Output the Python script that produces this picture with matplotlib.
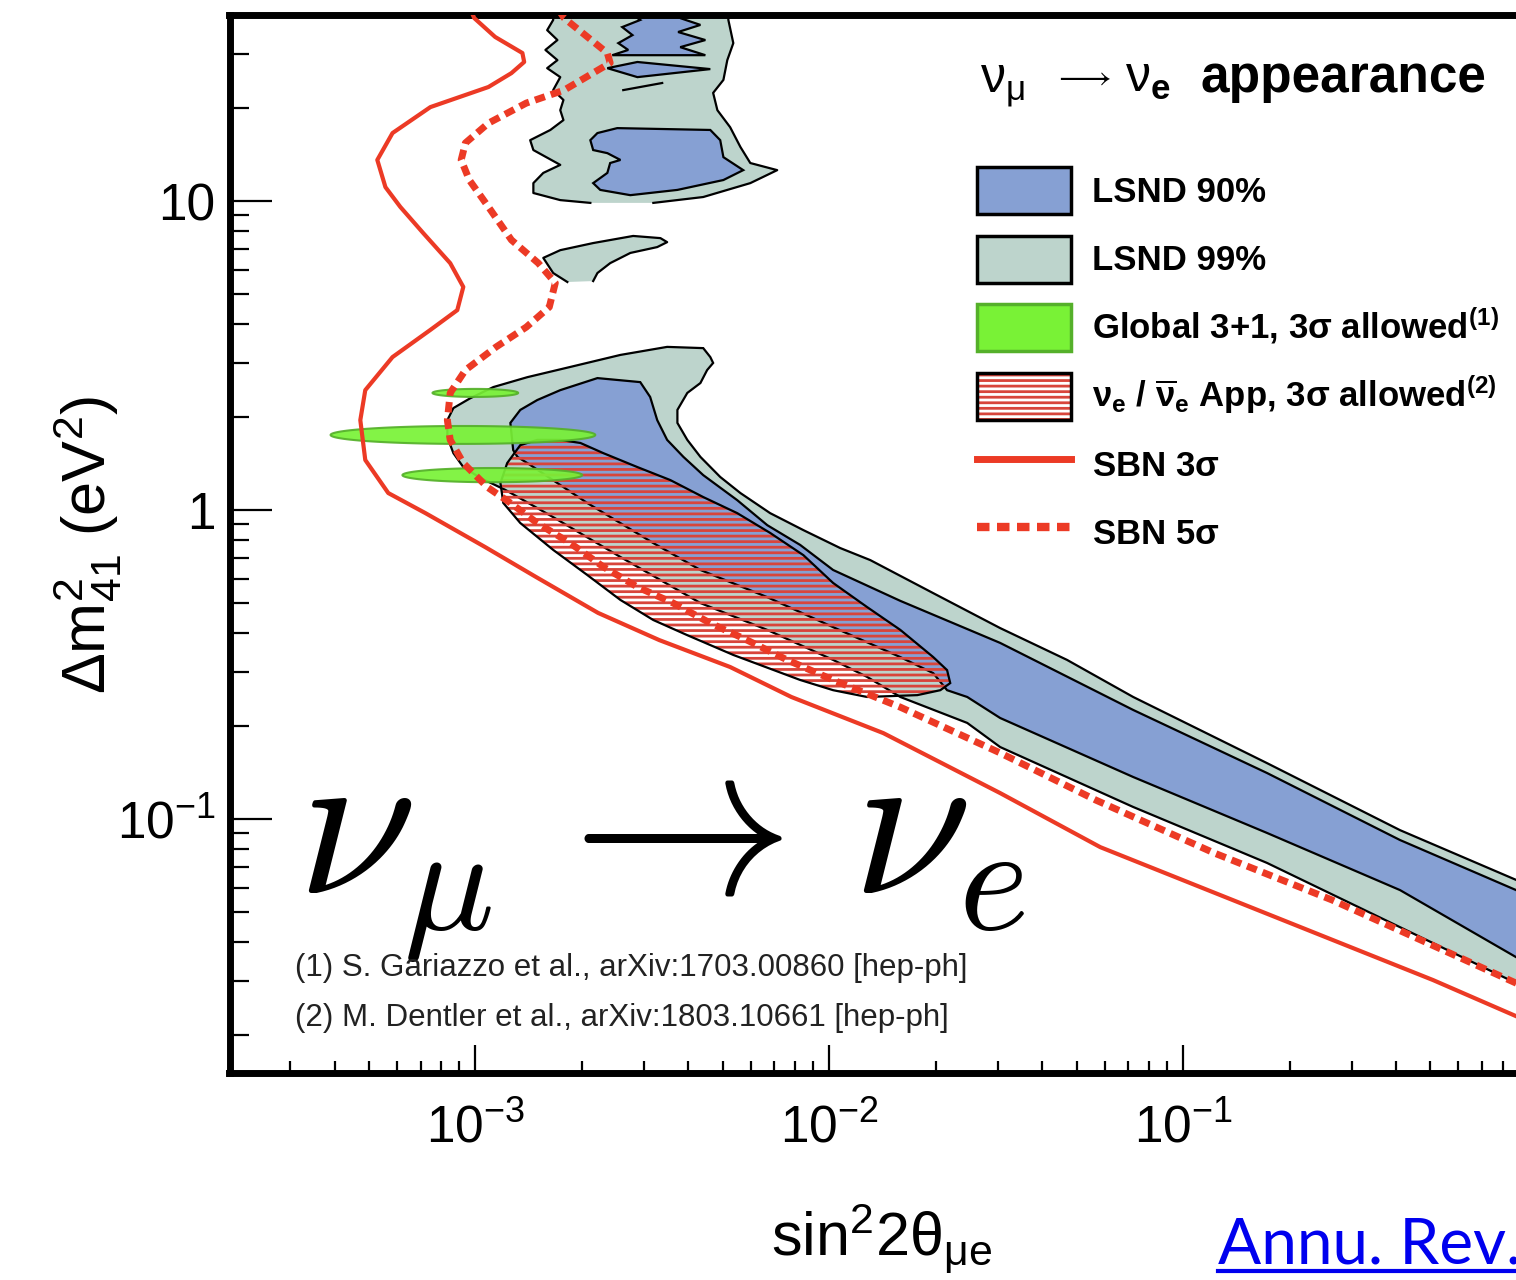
import numpy as np
import matplotlib
matplotlib.use("Agg")
import matplotlib.pyplot as plt
from matplotlib.patches import Patch
from matplotlib.lines import Line2D
from matplotlib.ticker import LogLocator, FuncFormatter, NullFormatter

plt.rcParams['font.family'] = ['Liberation Sans', 'DejaVu Sans']
plt.rcParams['mathtext.fontset'] = 'custom'
plt.rcParams['mathtext.rm'] = 'Liberation Sans'
plt.rcParams['mathtext.it'] = 'Liberation Sans:italic'
plt.rcParams['mathtext.bf'] = 'Liberation Sans:bold'
plt.rcParams['hatch.linewidth'] = 2.0

# all values are log10(sin^2 2theta) and log10(dm^2 / eV^2)
# SBN sensitivity curves
sbn3_logs2 = [-3.014, -3.003, -2.944, -2.867, -2.862, -2.898, -2.963, -3.127, -3.234, -3.277,
              -3.254, -3.212, -3.147, -3.071, -3.034, -3.051, -3.127, -3.234, -3.311, -3.325,
              -3.311, -3.246, -3.141, -2.972, -2.828, -2.653, -2.480, -2.280, -2.107, -1.847,
              -1.517, -1.234, -0.952, -0.576, -0.294, -0.059, 0.065]
sbn3_logdm2 = [1.62, 1.592, 1.531, 1.479, 1.450, 1.414, 1.369, 1.304, 1.220, 1.133,
               1.045, 0.981, 0.896, 0.799, 0.722, 0.647, 0.583, 0.495, 0.388, 0.291,
               0.162, 0.055, -0.010, -0.120, -0.217, -0.333, -0.421, -0.508, -0.605, -0.722,
               -0.916, -1.091, -1.220, -1.392, -1.521, -1.638, -1.699]

sbn5_logs2 = [-2.765, -2.749, -2.627, -2.619, -2.749, -2.856, -2.963, -3.028, -3.040, -3.017,
              -2.963, -2.898, -2.822, -2.774, -2.791, -2.856, -2.941, -3.028, -3.071, -3.079,
              -3.071, -3.034, -2.966, -2.901, -2.825, -2.732, -2.638, -2.542, -2.441, -2.336,
              -2.232, -2.119, -1.989, -1.799, -1.517, -1.246, -0.912, -0.579, -0.246, -0.059, 0.065]
sbn5_logdm2 = [1.62, 1.592, 1.479, 1.447, 1.359, 1.317, 1.252, 1.188, 1.133, 1.068,
               0.981, 0.874, 0.799, 0.735, 0.657, 0.592, 0.528, 0.453, 0.379, 0.291,
               0.227, 0.152, 0.074, 0.023, -0.042, -0.107, -0.184, -0.249, -0.301, -0.366,
               -0.421, -0.485, -0.550, -0.638, -0.786, -0.939, -1.110, -1.262, -1.434, -1.531, -1.595]

# LSND 99% : hook + diagonal band
lsnd99_band_logs2 = [-3.034, -3.062, -3.079, -3.079, -3.062, -3.014, -2.949, -2.853, -2.732, -2.590,
                     -2.458, -2.356, -2.336, -2.328, -2.345, -2.364, -2.401, -2.429, -2.429, -2.401,
                     -2.364, -2.308, -2.251, -2.167, -2.073, -1.969, -1.884, -1.706, -1.517, -1.328,
                     -1.141, -0.763, -0.387, -0.059, 0.065,
                     0.065, -0.059, -0.387, -0.763, -1.141, -1.517, -1.610, -1.799, -1.893, -1.989,
                     -2.175, -2.364, -2.590, -2.780, -2.915, -2.986]
lsnd99_band_logdm2 = [0.139, 0.184, 0.236, 0.291, 0.330, 0.362, 0.398, 0.430, 0.463, 0.502,
                      0.528, 0.524, 0.495, 0.476, 0.453, 0.411, 0.379, 0.324, 0.282, 0.227,
                      0.172, 0.107, 0.055, -0.010, -0.065, -0.123, -0.162, -0.269, -0.382, -0.485,
                      -0.605, -0.819, -1.036, -1.197, -1.265,
                      -1.595, -1.531, -1.350, -1.142, -0.961, -0.767, -0.689, -0.605, -0.540, -0.485,
                      -0.388, -0.301, -0.152, -0.023, 0.065, 0.104]

# LSND 90% : hook + diagonal band
lsnd90_band_logs2 = [-2.893, -2.901, -2.873, -2.825, -2.760, -2.655, -2.534, -2.506, -2.486, -2.458,
                     -2.412, -2.356, -2.260, -2.175, -2.082, -1.989, -1.799, -1.517, -1.141, -0.763,
                     -0.387, -0.059, 0.065,
                     0.065, -0.059, -0.387, -0.763, -1.141, -1.517, -1.610, -1.667, -1.706, -1.799,
                     -1.989, -2.175, -2.364, -2.497, -2.684, -2.845, -2.881]
lsnd90_band_logdm2 = [0.194, 0.282, 0.324, 0.356, 0.388, 0.427, 0.414, 0.366, 0.291, 0.227,
                      0.172, 0.113, 0.032, -0.049, -0.113, -0.194, -0.294, -0.430, -0.647, -0.851,
                      -1.068, -1.230, -1.294,
                      -1.515, -1.447, -1.230, -1.045, -0.864, -0.673, -0.605, -0.583, -0.528, -0.476,
                      -0.379, -0.282, -0.194, -0.107, 0.023, 0.146, 0.172]

# LSND islands at large dm2
lsnd99_top_logs2 = [-2.780, -2.780, -2.797, -2.768, -2.802, -2.768, -2.797, -2.760, -2.780, -2.751,
                    -2.760, -2.751, -2.788, -2.845, -2.836, -2.760, -2.808, -2.836, -2.836, -2.760,
                    -2.675, -2.497, -2.356, -2.223, -2.147, -2.223, -2.251, -2.280, -2.316, -2.328,
                    -2.299, -2.288, -2.271, -2.285, -2.285]
lsnd99_top_logdm2 = [1.62, 1.586, 1.553, 1.521, 1.489, 1.456, 1.430, 1.401, 1.359, 1.327,
                     1.294, 1.262, 1.230, 1.197, 1.165, 1.117, 1.091, 1.058, 1.026, 1.003,
                     0.994, 0.994, 1.013, 1.058, 1.100, 1.123, 1.175, 1.239, 1.294, 1.350,
                     1.392, 1.456, 1.511, 1.586, 1.62]
lsnd99_mid_logs2 = [-2.740, -2.780, -2.808, -2.760, -2.667, -2.554, -2.477, -2.458, -2.486, -2.562,
                    -2.619, -2.655, -2.667]
lsnd99_mid_logdm2 = [0.738, 0.767, 0.816, 0.841, 0.864, 0.887, 0.880, 0.867, 0.851, 0.832,
                     0.799, 0.767, 0.741]

lsnd90_blob_logs2 = [-2.599, -2.336, -2.308, -2.299, -2.243, -2.299, -2.429, -2.562, -2.647, -2.667,
                     -2.627, -2.619, -2.590, -2.627, -2.667, -2.675, -2.655]
lsnd90_blob_logdm2 = [1.236, 1.230, 1.197, 1.142, 1.100, 1.068, 1.036, 1.019, 1.036, 1.058,
                      1.091, 1.123, 1.133, 1.155, 1.165, 1.197, 1.220]
lsnd90_zig_logs2 = [-2.576, -2.534, -2.585, -2.556, -2.596, -2.568, -2.613, -2.350, -2.421, -2.350,
                    -2.427, -2.364, -2.421, -2.364]
lsnd90_zig_logdm2 = [1.62, 1.586, 1.563, 1.537, 1.511, 1.489, 1.472, 1.472, 1.498, 1.521,
                     1.547, 1.570, 1.592, 1.62]
lsnd90_lens_logs2 = [-2.627, -2.542, -2.336, -2.542]
lsnd90_lens_logdm2 = [1.430, 1.450, 1.427, 1.401]
lsnd_tick_logs2 = [-2.582, -2.472]
lsnd_tick_logdm2 = [1.359, 1.382]

# nu_e / nu_e-bar appearance 3 sigma allowed region
app_logs2 = [-2.825, -2.760, -2.703, -2.638, -2.542, -2.449, -2.356, -2.260, -2.167, -2.073,
             -1.989, -1.893, -1.799, -1.706, -1.667, -1.658, -1.686, -1.751, -1.893, -1.989,
             -2.082, -2.271, -2.401, -2.497, -2.590, -2.684, -2.780, -2.873, -2.921, -2.929,
             -2.910, -2.873]
app_logdm2 = [0.227, 0.227, 0.217, 0.184, 0.139, 0.097, 0.042, -0.010, -0.074, -0.146,
              -0.236, -0.314, -0.388, -0.476, -0.518, -0.560, -0.583, -0.599, -0.605, -0.583,
              -0.550, -0.469, -0.405, -0.356, -0.291, -0.210, -0.129, -0.042, 0.023, 0.087,
              0.152, 0.210]

# Global 3+1 3 sigma islands: centre and half extent (log10)
glob_c_logs2 = [-3.000, -3.035, -2.952]
glob_hw_logs2 = [0.121, 0.374, 0.254]
glob_c_logdm2 = [0.379, 0.243, 0.113]
glob_hh_logdm2 = [0.013, 0.029, 0.023]

c_blue = '#86a0d3'
c_gray = '#bdd4cc'
c_green = '#79f236'
c_red = '#ec3a25'
c_hatch = '#d8453b'

W, H = 1516, 1280
fig = plt.figure(figsize=(W / 100, H / 100), dpi=100)
ax = fig.add_axes([229.5 / W, 1 - 1073 / H, (1537 - 229.5) / W, (1073 - 15) / H])
ax.set_xscale('log')
ax.set_yscale('log')
ax.set_xlim(2.02e-4, 1.0)
ax.set_ylim(0.01507, 40.0)


def P(a):
    return 10 ** np.asarray(a, dtype=float)


# LSND 99%
ax.fill(P(lsnd99_band_logs2), P(lsnd99_band_logdm2), facecolor=c_gray, edgecolor='black', lw=1.6, zorder=1)
ax.fill(P(lsnd99_top_logs2), P(lsnd99_top_logdm2), facecolor=c_gray, edgecolor='none', zorder=1)
ax.plot(P(lsnd99_top_logs2[:21]), P(lsnd99_top_logdm2[:21]), color='black', lw=1.6, zorder=1.5)
ax.plot(P(lsnd99_top_logs2[21:]), P(lsnd99_top_logdm2[21:]), color='black', lw=1.6, zorder=1.5)
ax.fill(P(lsnd99_mid_logs2), P(lsnd99_mid_logdm2), facecolor=c_gray, edgecolor='none', zorder=1)
ax.plot(P(lsnd99_mid_logs2), P(lsnd99_mid_logdm2), color='black', lw=1.6, zorder=1.5)

# LSND 90%
ax.fill(P(lsnd90_band_logs2), P(lsnd90_band_logdm2), facecolor=c_blue, edgecolor='black', lw=1.6, zorder=2)
ax.fill(P(lsnd90_blob_logs2), P(lsnd90_blob_logdm2), facecolor=c_blue, edgecolor='black', lw=1.6, zorder=2)
ax.fill(P(lsnd90_zig_logs2), P(lsnd90_zig_logdm2), facecolor=c_blue, edgecolor='black', lw=1.6, zorder=2)
ax.fill(P(lsnd90_lens_logs2), P(lsnd90_lens_logdm2), facecolor=c_blue, edgecolor='black', lw=1.6, zorder=2)
ax.plot(P(lsnd_tick_logs2), P(lsnd_tick_logdm2), color='black', lw=1.6, zorder=2)

# appearance region, hatched
ax.fill(P(app_logs2), P(app_logdm2), facecolor='none', edgecolor=c_hatch, hatch='---', lw=0, zorder=3)
ax.fill(P(app_logs2), P(app_logdm2), facecolor='none', edgecolor='black', lw=1.6, zorder=3.1)

# global fit islands
t = np.linspace(0, 2 * np.pi, 120)
for cx, hw, cy, hh in zip(glob_c_logs2, glob_hw_logs2, glob_c_logdm2, glob_hh_logdm2):
    ax.fill(10 ** (cx + hw * np.cos(t)), 10 ** (cy + hh * np.sin(t)),
            facecolor=c_green, edgecolor='#55b02a', lw=1.5, alpha=0.92, zorder=4)

# SBN sensitivities
ax.plot(P(sbn3_logs2), P(sbn3_logdm2), color=c_red, lw=3.0, solid_joinstyle='round', zorder=5)
ax.plot(P(sbn5_logs2), P(sbn5_logdm2), color=c_red, lw=5.0, linestyle=(0, (1.5, 0.9)), zorder=5)

# axes styling
for side in ['left', 'bottom', 'top', 'right']:
    ax.spines[side].set_linewidth(5)
ax.xaxis.set_major_locator(LogLocator(base=10, numticks=10))
ax.xaxis.set_minor_locator(LogLocator(base=10, subs=np.arange(2, 10), numticks=20))
ax.yaxis.set_major_locator(LogLocator(base=10, numticks=10))
ax.yaxis.set_minor_locator(LogLocator(base=10, subs=np.arange(2, 10), numticks=20))
ax.xaxis.set_minor_formatter(NullFormatter())
ax.yaxis.set_minor_formatter(NullFormatter())


def xfmt(v, p):
    e = int(round(np.log10(v)))
    if e >= 0:
        return ''
    return r'$\mathregular{10^{%d}}$' % e


def yfmt(v, p):
    e = int(round(np.log10(v)))
    if e == 1:
        return '10'
    if e == 0:
        return '1'
    return r'$\mathregular{10^{%d}}$' % e


ax.xaxis.set_major_formatter(FuncFormatter(xfmt))
ax.yaxis.set_major_formatter(FuncFormatter(yfmt))
ax.tick_params(axis='y', which='major', direction='in', length=30, width=1.6, pad=10, labelsize=37)
ax.tick_params(axis='y', which='minor', direction='in', length=14, width=1.6)
ax.tick_params(axis='x', which='major', direction='in', length=20, width=1.6, pad=22, labelsize=37)
ax.tick_params(axis='x', which='minor', direction='in', length=9, width=1.6)
ax.tick_params(top=False, right=False, which='both')

# axis titles
fig.text(882 / W, 1 - 1238 / H, r'sin$\mathregular{^2}$2$\mathregular{\theta_{\mu e}}$',
         ha='center', va='center', fontsize=44)
fig.text(88 / W, 1 - 545 / H, r'$\mathregular{\Delta m^2_{41}}$ (eV$\mathregular{^2}$)',
         rotation=90, ha='center', va='center', fontsize=44)

# legend
handles = [
    Patch(facecolor=c_blue, edgecolor='black', lw=2.5),
    Patch(facecolor=c_gray, edgecolor='black', lw=2.5),
    Patch(facecolor=c_green, edgecolor='#55b02a', lw=2.5),
    (Patch(facecolor='white', edgecolor=c_hatch, hatch='---', lw=0),
     Patch(facecolor='none', edgecolor='black', lw=2.5)),
    Line2D([], [], color=c_red, lw=5),
    Line2D([], [], color=c_red, lw=6, linestyle=(0, (1.5, 0.9))),
]
labels = ['LSND 90%', 'LSND 99%',
          r'Global 3+1, 3$\mathregular{\sigma}$ allowed$\mathregular{^{(1)}}$',
          r'$\mathregular{\nu_e}$ / $\mathregular{\overline{\nu}_e}$ App, 3$\mathregular{\sigma}$ allowed$\mathregular{^{(2)}}$',
          r'SBN 3$\mathregular{\sigma}$', r'SBN 5$\mathregular{\sigma}$']
ax.legend(handles, labels, loc='upper left', bbox_to_anchor=(977 / W, 1 - 167 / H),
          bbox_transform=fig.transFigure, frameon=False,
          prop={'size': 25, 'weight': 'bold'}, handlelength=2.7, handleheight=1.706,
          labelspacing=0.62, handletextpad=0.6, borderpad=0, borderaxespad=0)

fig.text(980 / W, 1 - 92 / H, r'$\mathregular{\nu_{\mu}}$', fontsize=36, va='baseline')
fig.text(1053 / W, 1 - 86 / H, r'$\mathregular{\longrightarrow}$', fontsize=24, va='baseline')
fig.text(1125 / W, 1 - 92 / H, r'$\mathregular{\nu_{\mathbf{e}}}$', fontsize=36, va='baseline')
fig.text(1200 / W, 1 - 92 / H, 'appearance', fontsize=37, weight='bold', va='baseline')

# overlay: nu_mu -> nu_e
fig.text(297 / W, 1 - 894 / H, r'$\nu_\mu$', fontsize=155, math_fontfamily='cm',
         ha='left', va='baseline')
fig.text(532 / W, 1 - 894 / H, r'$\rightarrow$', fontsize=160, math_fontfamily='cm',
         ha='left', va='baseline')
fig.text(852 / W, 1 - 894 / H, r'$\nu_e$', fontsize=155, math_fontfamily='cm',
         ha='left', va='baseline')

# references
fig.text(295 / W, 1 - 968 / H, '(1) S. Gariazzo et al., arXiv:1703.00860 [hep-ph]',
         fontsize=22.5, color='#222222', va='center')
fig.text(295 / W, 1 - 1018 / H, '(2) M. Dentler et al., arXiv:1803.10661 [hep-ph]',
         fontsize=22.5, color='#222222', va='center')

fig.text(1218 / W, 1 - 1263 / H, 'Annu. Rev. Nucl. Part. Sci.', color='#0000ee', fontsize=46,
         family=['Lato', 'DejaVu Sans'], va='baseline')
fig.add_artist(Line2D([1218 / W, 1.0], [1 - 1271 / H] * 2, color='#0000ee', lw=3,
                      transform=fig.transFigure))

fig.savefig('out.png', dpi=100)
